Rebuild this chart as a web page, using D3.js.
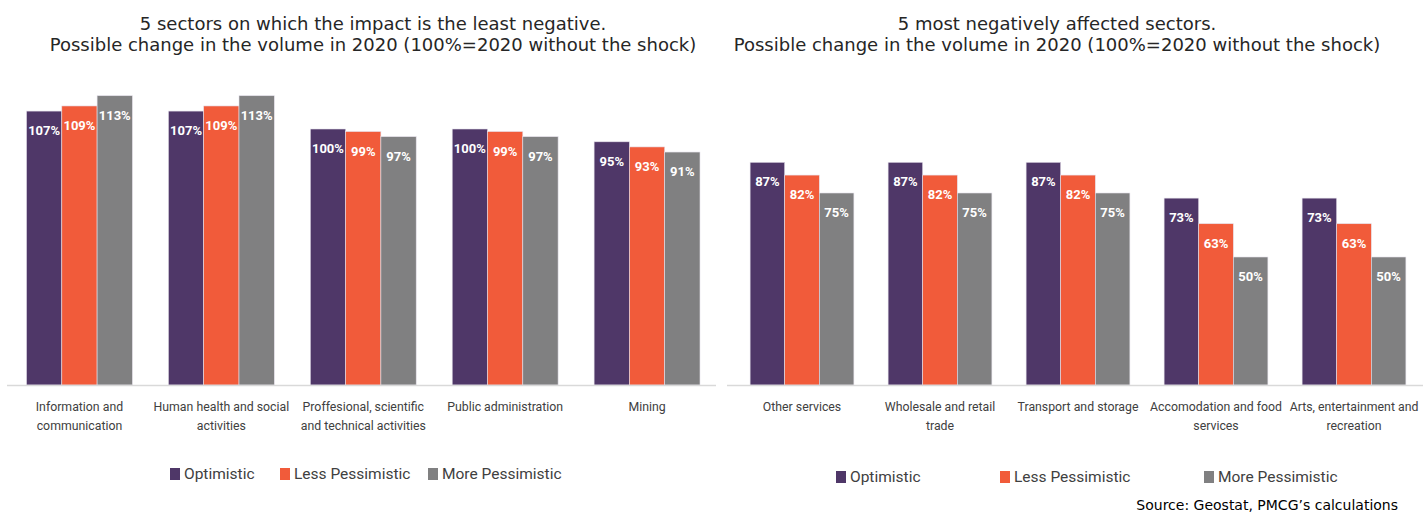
<!DOCTYPE html>
<html>
<head>
<meta charset="utf-8">
<script src="https://cdn.jsdelivr.net/npm/d3@7"></script>
<style>
  body { margin: 0; background: #fff; }
  svg { display: block; }
</style>
</head>
<body>
<div id="chart"></div>
<script>
// Scenario names and colours
const seriesNames = ['Optimistic', 'Less Pessimistic', 'More Pessimistic'];
const seriesColors = ['#4f3768', '#f15b3a', '#808081'];

// Left panel: least negatively affected sectors
const leftCategories = [
    'Information and\ncommunication',
    'Human health and social\nactivities',
    'Proffesional, scientific\nand technical activities',
    'Public administration',
    'Mining'
];
const leftOptimistic = [107, 107, 100, 100, 95];
const leftLessPessimistic = [109, 109, 99, 99, 93];
const leftMorePessimistic = [113, 113, 97, 97, 91];

// Right panel: most negatively affected sectors
const rightCategories = [
    'Other services',
    'Wholesale and retail\ntrade',
    'Transport and storage',
    'Accomodation and food\nservices',
    'Arts, entertainment and\nrecreation'
];
const rightOptimistic = [87, 87, 87, 73, 73];
const rightLessPessimistic = [82, 82, 82, 63, 63];
const rightMorePessimistic = [75, 75, 75, 50, 50];

const width = 1423, height = 512;
const baseline = 385;
const narrow = 'Roboto, "Liberation Sans", sans-serif';
const dejavu = '"DejaVu Sans", sans-serif';

const svg = d3.select('#chart').append('svg')
    .attr('width', width)
    .attr('height', height);

// Same value scale for both panels
const y = d3.scaleLinear().domain([0, 150]).range([baseline, 1]);

function drawPanel(cfg) {
    const g = svg.append('g');

    // Title (two lines)
    const title = g.append('text')
        .attr('text-anchor', 'middle')
        .attr('font-family', dejavu)
        .attr('font-size', '18px')
        .attr('fill', '#262626');
    cfg.title.forEach((line, i) => {
        title.append('tspan')
            .attr('x', cfg.titleX)
            .attr('y', 30 + i * 21)
            .text(line);
    });

    const x = d3.scaleBand()
        .domain(cfg.categories)
        .range(cfg.range)
        .padding(0);

    const half = cfg.barWidth * 1.5;
    const xs = d3.scaleBand()
        .domain(seriesNames)
        .range([-half, half]);

    const rows = cfg.categories.map((c, i) => ({
        category: c,
        values: cfg.series.map((s, j) => ({ name: seriesNames[j], value: s[i] }))
    }));

    const groups = g.selectAll('.grp')
        .data(rows)
        .enter().append('g')
        .attr('class', 'grp')
        .attr('transform', d => `translate(${x(d.category) + x.bandwidth() / 2},0)`);

    groups.selectAll('rect')
        .data(d => d.values)
        .enter().append('rect')
        .attr('x', d => xs(d.name))
        .attr('width', xs.bandwidth())
        .attr('y', d => y(d.value))
        .attr('height', d => y(0) - y(d.value))
        .attr('fill', (d, i) => seriesColors[i])
        .attr('stroke', '#e4e0ea')
        .attr('stroke-width', 0.6);

    groups.selectAll('text.val')
        .data(d => d.values)
        .enter().append('text')
        .attr('class', 'val')
        .attr('x', d => xs(d.name) + xs.bandwidth() / 2)
        .attr('y', d => y(d.value) + 24)
        .attr('text-anchor', 'middle')
        .attr('font-family', narrow)
        .attr('font-weight', 'bold')
        .attr('font-size', '13px')
        .attr('fill', '#fff')
        .text(d => d.value + '%');

    // Baseline
    g.append('line')
        .attr('x1', cfg.axisRange[0])
        .attr('x2', cfg.axisRange[1])
        .attr('y1', baseline + 0.5)
        .attr('y2', baseline + 0.5)
        .attr('stroke', '#d9d9d9')
        .attr('stroke-width', 1.5);

    // Category labels
    const labels = groups.append('text')
        .attr('text-anchor', 'middle')
        .attr('font-family', narrow)
        .attr('font-size', '12.3px')
        .attr('fill', '#404040');
    labels.selectAll('tspan')
        .data(d => d.category.split('\n'))
        .enter().append('tspan')
        .attr('x', 0)
        .attr('y', (d, i) => 411 + i * 19)
        .text(d => d);

    // Legend
    const legend = g.selectAll('.leg')
        .data(seriesNames)
        .enter().append('g')
        .attr('class', 'leg')
        .attr('transform', (d, i) => `translate(${cfg.legendX[i]},${cfg.legendY})`);
    legend.append('rect')
        .attr('x', 0)
        .attr('y', -11)
        .attr('width', 10)
        .attr('height', 12)
        .attr('fill', (d, i) => seriesColors[i]);
    legend.append('text')
        .attr('x', 14)
        .attr('y', 0)
        .attr('font-family', narrow)
        .attr('font-size', '15.5px')
        .attr('fill', '#404040')
        .text(d => d);
}

drawPanel({
    title: ['5 sectors on which the impact is the least negative.',
            'Possible change in the volume in 2020 (100%=2020 without the shock)'],
    titleX: 373,
    categories: leftCategories,
    series: [leftOptimistic, leftLessPessimistic, leftMorePessimistic],
    range: [8.5, 718],
    axisRange: [7, 716],
    barWidth: 35.3,
    legendX: [170, 280, 428],
    legendY: 479
});

drawPanel({
    title: ['5 most negatively affected sectors.',
            'Possible change in the volume in 2020 (100%=2020 without the shock)'],
    titleX: 1057,
    categories: rightCategories,
    series: [rightOptimistic, rightLessPessimistic, rightMorePessimistic],
    range: [733, 1423],
    axisRange: [727, 1423],
    barWidth: 34.6,
    legendX: [836, 1000, 1204],
    legendY: 482
});

// Source note
svg.append('text')
    .attr('x', 1398)
    .attr('y', 510)
    .attr('text-anchor', 'end')
    .attr('font-family', dejavu)
    .attr('font-size', '14px')
    .attr('fill', '#000')
    .text('Source: Geostat, PMCG\u2019s calculations');
</script>
</body>
</html>
